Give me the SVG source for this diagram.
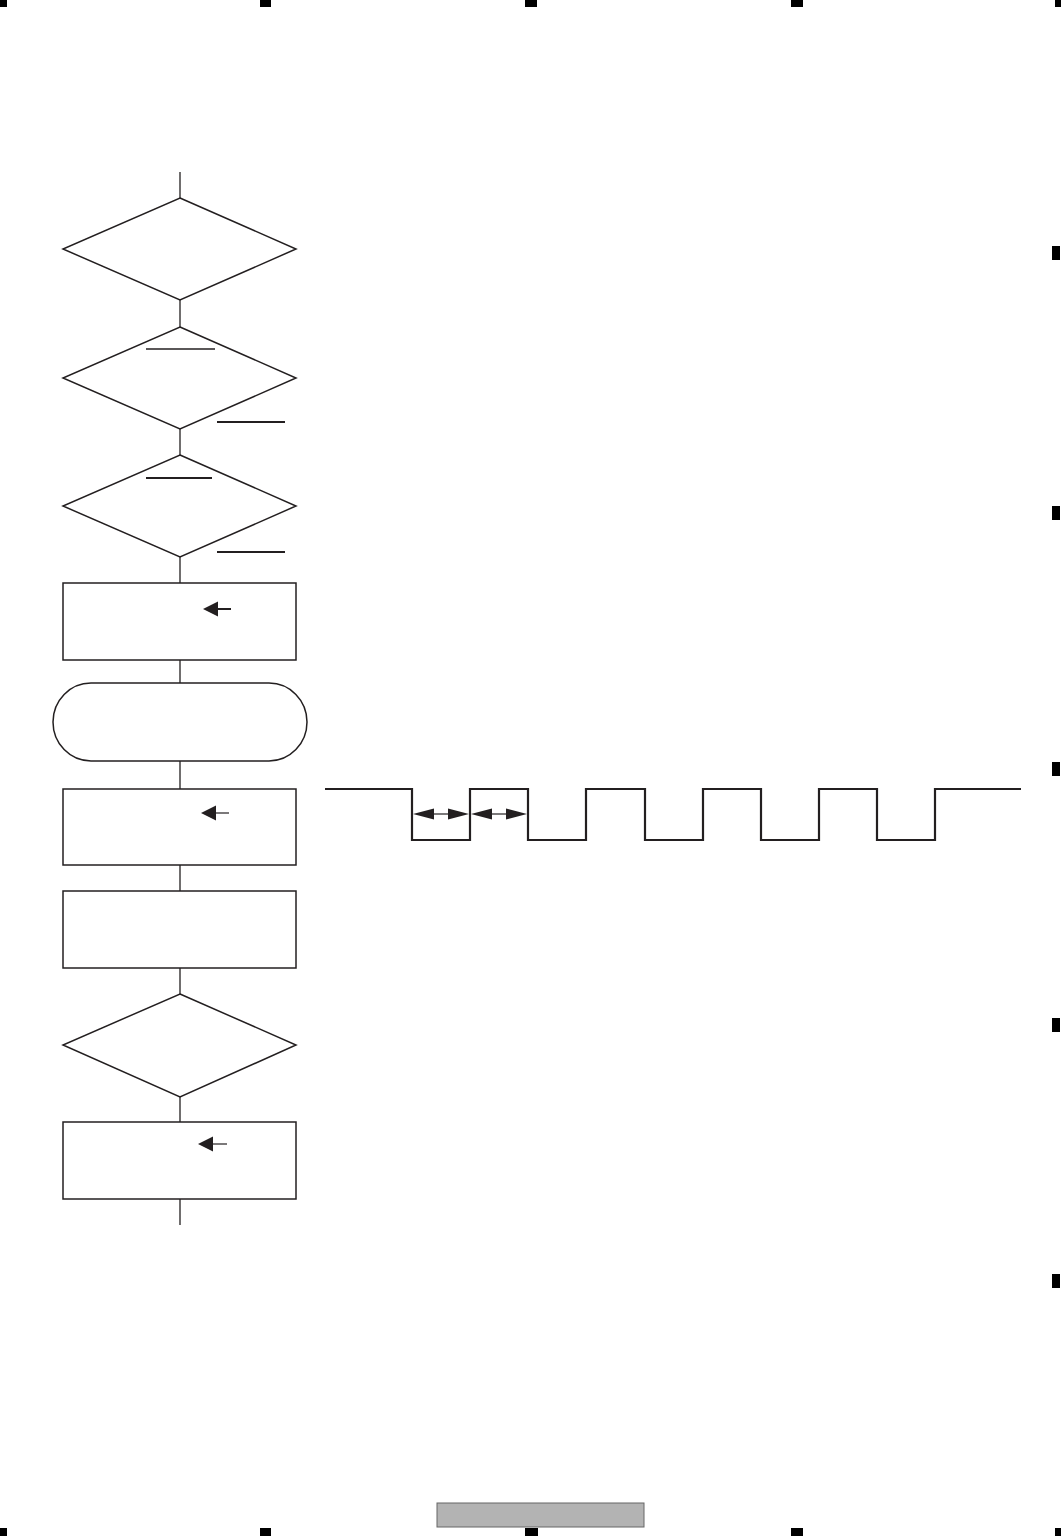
<svg xmlns="http://www.w3.org/2000/svg" width="1061" height="1536" viewBox="0 0 1061 1536">
<style>
.shape{fill:#fff;stroke:#231f20;stroke-width:1.5}
.conn{stroke:#231f20;stroke-width:1.3;fill:none}
.bar{stroke:#231f20;fill:none}
.wave{stroke:#231f20;stroke-width:2.2;fill:none}
.head{fill:#231f20}
.mark{fill:#000}
</style>
<rect width="1061" height="1536" fill="#fff"/>
<g id="registration-marks">
<rect class="mark" x="0" y="0" width="7" height="7"/>
<rect class="mark" x="260" y="0" width="11" height="7"/>
<rect class="mark" x="525" y="0" width="12" height="7"/>
<rect class="mark" x="791" y="0" width="12" height="7"/>
<rect class="mark" x="1055" y="0" width="6" height="7"/>
<rect class="mark" x="0" y="1528" width="7" height="8"/>
<rect class="mark" x="260" y="1528" width="11" height="8"/>
<rect class="mark" x="525" y="1528" width="13" height="8"/>
<rect class="mark" x="791" y="1528" width="12" height="8"/>
<rect class="mark" x="1055" y="1528" width="6" height="8"/>
<rect class="mark" x="1052" y="246" width="8" height="14"/>
<rect class="mark" x="1052" y="506" width="8" height="14"/>
<rect class="mark" x="1052" y="762" width="8" height="14"/>
<rect class="mark" x="1052" y="1018" width="8" height="14"/>
<rect class="mark" x="1052" y="1274" width="8" height="14"/>
</g>
<g id="page-label">
<rect x="437" y="1503" width="207" height="24" fill="#b3b3b3" stroke="#666" stroke-width="1"/>
</g>
<g id="connectors">
<line class="conn" x1="180" y1="172" x2="180" y2="198"/>
<line class="conn" x1="180" y1="300" x2="180" y2="327"/>
<line class="conn" x1="180" y1="429" x2="180" y2="455"/>
<line class="conn" x1="180" y1="557" x2="180" y2="583"/>
<line class="conn" x1="180" y1="660" x2="180" y2="683"/>
<line class="conn" x1="180" y1="761" x2="180" y2="789"/>
<line class="conn" x1="180" y1="865" x2="180" y2="891"/>
<line class="conn" x1="180" y1="968" x2="180" y2="994"/>
<line class="conn" x1="180" y1="1097" x2="180" y2="1122"/>
<line class="conn" x1="180" y1="1199" x2="180" y2="1225"/>
</g>
<g id="decision1">
<polygon class="shape" points="180,198 296,249 180,300 63,249"/>
</g>
<g id="decision2">
<polygon class="shape" points="180,327 296,378 180,429 63,378"/>
<line class="bar" stroke-width="1.4" x1="146" y1="349" x2="215" y2="349"/>
<line class="bar" stroke-width="2" x1="217" y1="422" x2="285" y2="422"/>
</g>
<g id="decision3">
<polygon class="shape" points="180,455 296,506 180,557 63,506"/>
<line class="bar" stroke-width="2" x1="146" y1="478" x2="212" y2="478"/>
<line class="bar" stroke-width="2" x1="217" y1="552" x2="285" y2="552"/>
</g>
<g id="process1">
<rect class="shape" x="63" y="583" width="233" height="77"/>
<polygon class="head" points="203,609 218,601.5 218,616.5"/>
<line class="bar" stroke-width="2" x1="216" y1="609" x2="231" y2="609"/>
</g>
<g id="terminal">
<rect class="shape" x="53" y="683" width="254" height="78" rx="38" ry="39"/>
</g>
<g id="process2">
<rect class="shape" x="63" y="789" width="233" height="76"/>
<polygon class="head" points="201,813 216,805.5 216,820.5"/>
<line class="bar" stroke-width="1.2" x1="214" y1="813" x2="229" y2="813"/>
</g>
<g id="process3">
<rect class="shape" x="63" y="891" width="233" height="77"/>
</g>
<g id="decision4">
<polygon class="shape" points="180,994 296,1045 180,1097 63,1045"/>
</g>
<g id="process4">
<rect class="shape" x="63" y="1122" width="233" height="77"/>
<polygon class="head" points="198,1144 213,1136.5 213,1151.5"/>
<line class="bar" stroke-width="1.2" x1="212" y1="1144" x2="227" y2="1144"/>
</g>
<g id="waveform">
<polyline class="wave" points="325,789 412,789 412,840 470,840 470,789 528,789 528,840 586,840 586,789 645,789 645,840 703,840 703,789 761,789 761,840 819,840 819,789 877,789 877,840 935,840 935,789 1021,789"/>
<line class="bar" stroke-width="1.2" x1="430" y1="814" x2="452" y2="814"/>
<polygon class="head" points="413,814 434,808.5 434,819.5"/>
<polygon class="head" points="469,814 448,808.5 448,819.5"/>
<line class="bar" stroke-width="1.2" x1="488" y1="814" x2="510" y2="814"/>
<polygon class="head" points="471,814 492,808.5 492,819.5"/>
<polygon class="head" points="527,814 506,808.5 506,819.5"/>
</g>
</svg>
